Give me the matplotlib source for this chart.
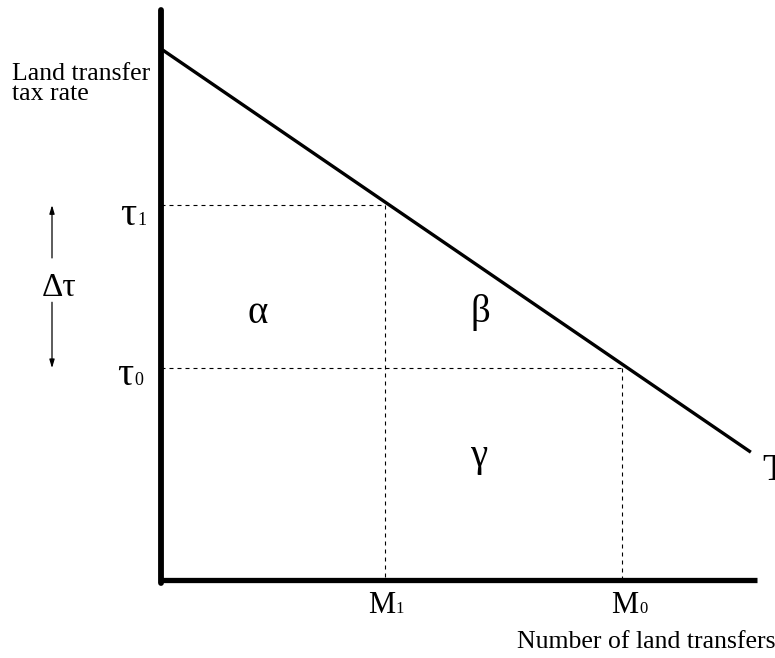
import matplotlib
matplotlib.use("Agg")
import matplotlib.pyplot as plt

plt.rcParams["font.family"] = ["Liberation Serif", "DejaVu Serif"]

# diagram values (x: number of land transfers, y: tax rate)
M1 = 3.77
M0 = 7.76
tau1 = 6.60
tau0 = 3.73
demand_x = [0.03, 9.93]
demand_y = [9.33, 2.25]

fig = plt.figure(figsize=(7.75, 6.58), dpi=100)
ax = fig.add_axes([161 / 775, 78 / 658, 594 / 775, 568 / 658])
ax.set_xlim(0, 10)
ax.set_ylim(0, 10)
ax.axis("off")

# axes
ax.plot([0, 0], [-0.05, 10.04], color="black", lw=4.2, solid_capstyle="round", clip_on=False)
ax.plot([0, 10.03], [0, 0], color="black", lw=3.8, solid_capstyle="butt", clip_on=False)

# demand line
ax.plot(demand_x, demand_y, color="black", lw=2.4, solid_capstyle="butt", clip_on=False)

# dashed guides
dash = dict(color="black", lw=0.8, ls=(0, (3.6, 3.6)))
ax.plot([0, M1], [tau1, tau1], **dash)
ax.plot([M1, M1], [tau1, 0], **dash)
ax.plot([0, M0], [tau0, tau0], **dash)
ax.plot([M0, M0], [tau0, 0], **dash)

# labels with subscripts
def sub_label(xy, main, sub, off, size=29, subsize=13):
    ax.annotate(main, xy=xy, xytext=off, textcoords="offset pixels",
                ha="right", va="baseline", fontsize=size, annotation_clip=False)
    ax.annotate(sub, xy=xy, xytext=(off[0] + 1, off[1]), textcoords="offset pixels",
                ha="left", va="baseline", fontsize=subsize, annotation_clip=False)

sub_label((0, tau1), "τ", "1", (-25, -20))
sub_label((0, tau0), "τ", "0", (-28, -17))
sub_label((M1, 0), "M", "1", (10, -33), size=22, subsize=12)
sub_label((M0, 0), "M", "0", (16, -33), size=22, subsize=12)

# delta tau with arrows
ax.annotate("Δτ", xy=(0, (tau0 + tau1) / 2), xytext=(-102, -9), textcoords="offset pixels",
            ha="center", va="baseline", fontsize=24, annotation_clip=False)
arrow = dict(arrowstyle="-|>,head_length=0.5,head_width=0.15", color="black", lw=0.9, shrinkA=0, shrinkB=0)
ax.annotate("", xy=(-1.835, tau1), xytext=(-1.835, tau1 - 0.93), arrowprops=arrow, annotation_clip=False)
ax.annotate("", xy=(-1.835, tau0), xytext=(-1.835, tau0 + 1.16), arrowprops=arrow, annotation_clip=False)

# areas
ax.text(1.62, 4.52, "α", ha="center", va="baseline", fontsize=28)
ax.text(5.37, 4.54, "β", ha="center", va="baseline", fontsize=28)
ax.text(5.34, 2.0, "γ", ha="center", va="baseline", fontsize=28)

# axis titles (baseline of a multi-line text is its last line)
ax.text(-2.51, 8.45, "Land transfer\ntax rate", ha="left", va="baseline",
        fontsize=18.5, linespacing=0.88, clip_on=False)
ax.text(5.99, -1.20, "Number of land transfers", ha="left", va="baseline", fontsize=18.5, clip_on=False)
ax.text(10.13, 1.76, "T", ha="left", va="baseline", fontsize=27, clip_on=False)

fig.savefig("out.png", dpi=100)
